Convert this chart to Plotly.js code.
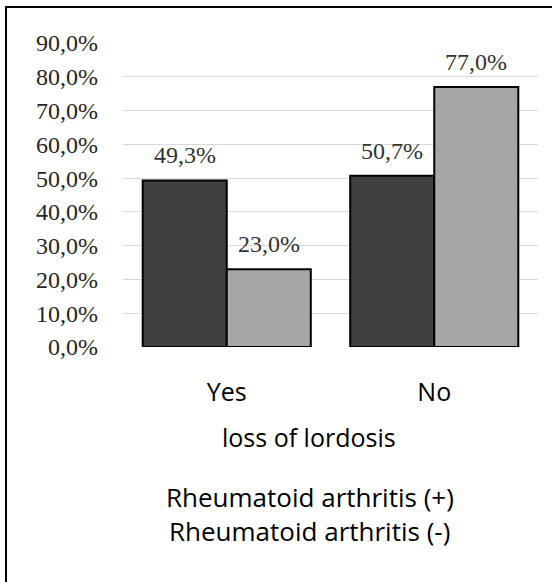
<!DOCTYPE html>
<html>
<head>
<meta charset="utf-8">
<script src="https://cdn.plot.ly/plotly-3.0.1.min.js"></script>
<style>
  html, body { margin: 0; padding: 0; background: #fff; }
  #wrap { position: relative; width: 552px; height: 582px; overflow: hidden; }
  #chart { position: absolute; left: 0; top: 0; width: 552px; height: 582px; }
  #frame { position: absolute; left: 5px; top: 6px; width: 600px; height: 620px;
           border-top: 2px solid #000; border-left: 2px solid #000; pointer-events: none; }
</style>
</head>
<body>
<div id="wrap">
  <div id="chart"></div>
  <div id="frame"></div>
</div>
<script>
const categories = ["Yes", "No"];
const seriesNames = ["Rheumatoid arthritis (+)", "Rheumatoid arthritis (-)"];
const raPositive = [0.493, 0.507];
const raNegative = [0.230, 0.770];
const yTickValues = [0, 0.1, 0.2, 0.3, 0.4, 0.5, 0.6, 0.7, 0.8, 0.9];
const xAxisTitle = "loss of lordosis";

const serif = "Liberation Serif, Times New Roman, serif";
const sans = "Open Sans, Lato, sans-serif";
const seriesColors = ["#404040", "#a6a6a6"];
const seriesValues = [raPositive, raNegative];
const labelShift = [-42, 42];

const traces = seriesValues.map((vals, i) => ({
  type: "bar",
  name: seriesNames[i],
  x: categories,
  y: vals,
  marker: { color: seriesColors[i], line: { color: "#000", width: 2 } },
  hoverinfo: "skip",
  showlegend: false
}));

const annotations = [];
seriesValues.forEach((vals, i) => {
  vals.forEach((v, j) => {
    annotations.push({
      xref: "x", yref: "y", x: categories[j], y: v,
      xanchor: "center", yanchor: "bottom",
      xshift: labelShift[i], yshift: 10,
      text: (v * 100).toFixed(1).replace(".", ",") + "%",
      showarrow: false,
      font: { family: serif, size: 24, color: "#333" }
    });
  });
});
annotations.push({
  xref: "paper", yref: "paper", x: 0.448, y: -0.296,
  xanchor: "center", yanchor: "middle",
  text: xAxisTitle, showarrow: false,
  font: { family: sans, size: 25, color: "#000" }
});
seriesNames.forEach((n, i) => {
  annotations.push({
    xref: "paper", yref: "paper", x: 0.45, y: -0.493 - i * 0.113,
    xanchor: "center", yanchor: "middle",
    text: n, showarrow: false,
    font: { family: sans, size: 26, color: "#000" }
  });
});

const layout = {
  width: 552, height: 582,
  margin: { l: 123, r: 14, t: 43, b: 235, pad: 0 },
  paper_bgcolor: "#fff", plot_bgcolor: "#fff",
  barmode: "group", bargap: 0.19, bargroupgap: 0,
  separators: ",.",
  showlegend: false,
  xaxis: {
    type: "category",
    showline: false, showgrid: false, zeroline: false,
    ticks: "", ticklabelstandoff: 28,
    tickfont: { family: sans, size: 25, color: "#000" }
  },
  yaxis: {
    range: [0, 0.9],
    tickvals: yTickValues, tickformat: ".1%",
    showgrid: true, gridcolor: "#d9d9d9", gridwidth: 1,
    zeroline: false, showline: false, ticks: "",
    ticklabelstandoff: 24,
    tickfont: { family: serif, size: 24, color: "#262626" }
  },
  annotations: annotations
};

Plotly.newPlot("chart", traces, layout, { staticPlot: true, displayModeBar: false });
</script>
</body>
</html>
